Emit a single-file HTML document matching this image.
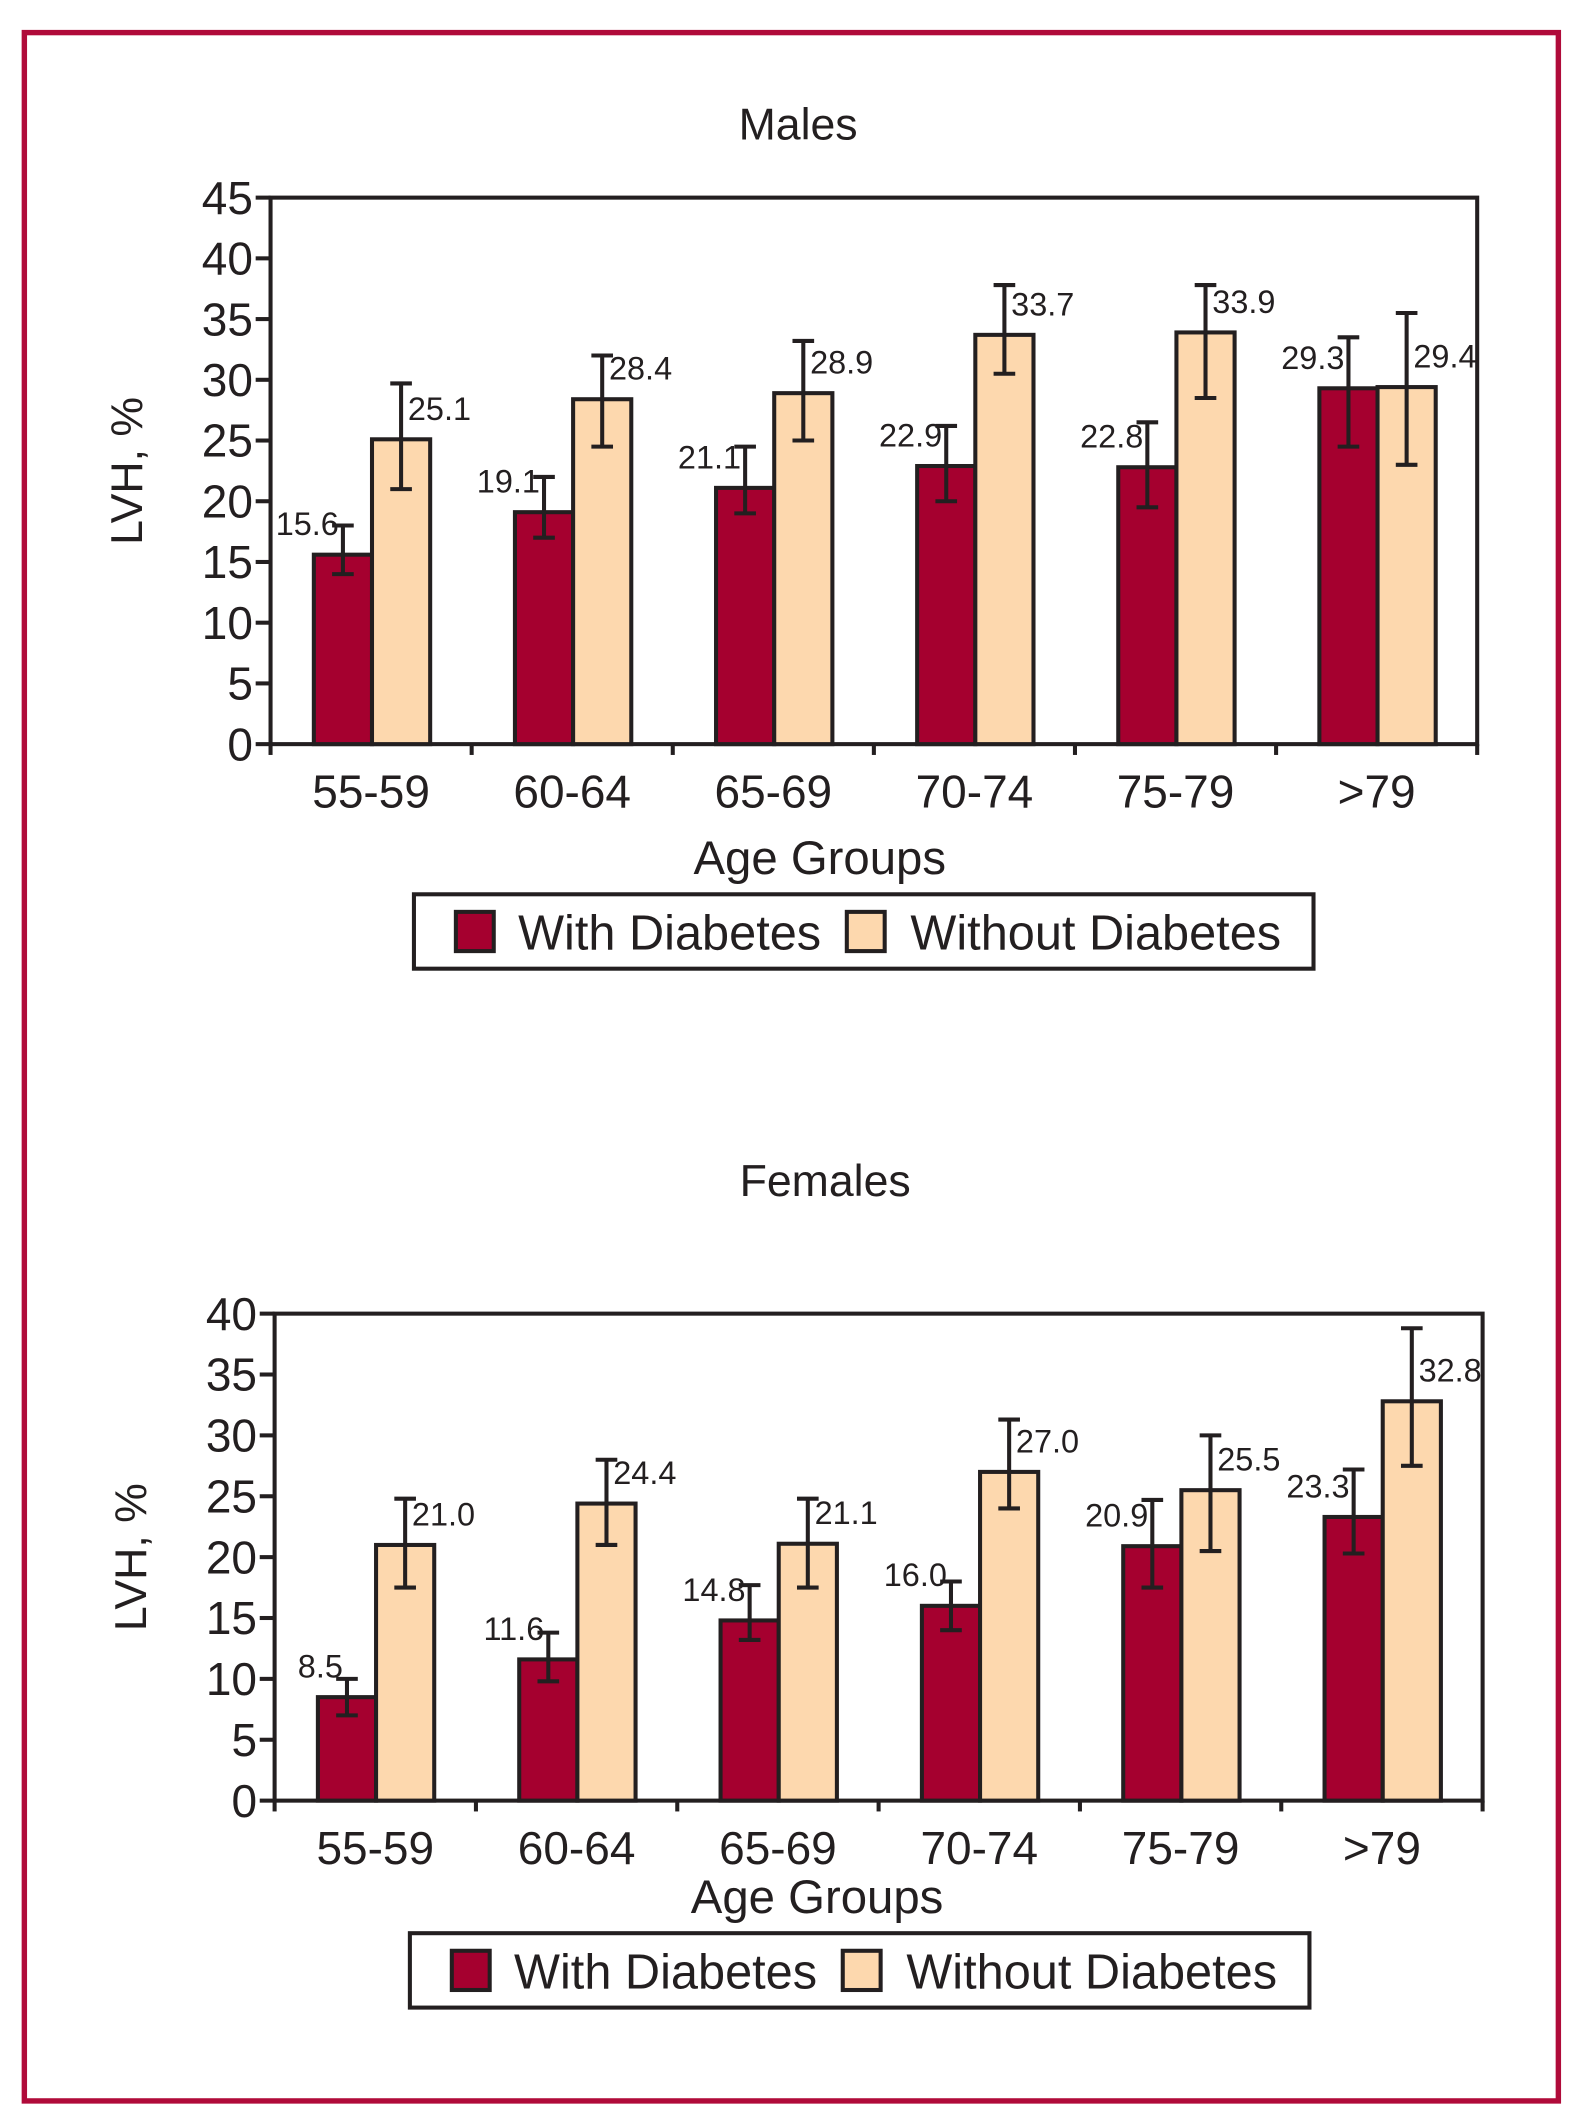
<!DOCTYPE html>
<html><head><meta charset="utf-8">
<style>
html,body{margin:0;padding:0;background:#fff;}
svg{display:block;}
text{font-family:"Liberation Sans Narrow","Liberation Sans",sans-serif;fill:#231f20;}
</style></head>
<body>
<svg id="chart" width="1580" height="2120" viewBox="0 0 1168 1567" xmlns="http://www.w3.org/2000/svg">
<rect x="18" y="24" width="1134" height="1529" fill="none" stroke="#b00b3a" stroke-width="4"/>
</svg>
<script>
const categories = ["55-59","60-64","65-69","70-74","75-79",">79"];
const maleWith = [15.6,19.1,21.1,22.9,22.8,29.3];
const maleWithout = [25.1,28.4,28.9,33.7,33.9,29.4];
const maleWithHi = [18,22,24.5,26.2,26.5,33.5];
const maleWithLo = [14,17,19,20,19.5,24.5];
const maleWithoutHi = [29.7,32,33.2,37.8,37.8,35.5];
const maleWithoutLo = [21,24.5,25,30.5,28.5,23];
const femaleWith = [8.5,11.6,14.8,16.0,20.9,23.3];
const femaleWithout = [21.0,24.4,21.1,27.0,25.5,32.8];
const femaleWithHi = [10,13.8,17.7,18,24.7,27.2];
const femaleWithLo = [7,9.8,13.2,14,17.5,20.3];
const femaleWithoutHi = [24.8,28,24.8,31.3,30,38.8];
const femaleWithoutLo = [17.5,21,17.5,24,20.5,27.5];
const maleTicks = [0,5,10,15,20,25,30,35,40,45];
const femaleTicks = [0,5,10,15,20,25,30,35,40];

const NS="http://www.w3.org/2000/svg";
const svg=document.getElementById('chart');
function mk(tag,attrs,parent){const e=document.createElementNS(NS,tag);for(const k in attrs)e.setAttribute(k,attrs[k]);(parent||svg).appendChild(e);return e;}
const DARK="#231f20", WITH="#a5002f", WITHOUT="#fdd8ae";

function drawChart(cfg){
  const g=mk('g',{});
  
  
  const {x0,x1,y0,y1,max}=cfg;
  const yS=v=>y0-(v/max)*(y0-y1);
  const gw=(x1-x0)/categories.length;
  const xS=i=>x0+i*gw;
  const t=mk('text',{x:cfg.titleX,y:cfg.titleY,'font-size':33,'text-anchor':'middle'},g);t.textContent=cfg.title;
  
  
  const fr=mk('rect',{x:x0,y:y1,width:x1-x0,height:y0-y1,fill:'none',stroke:DARK,'stroke-width':3},g);
  
  
  cfg.ticks.forEach(v=>{
    mk('line',{x1:x0-11,x2:x0,y1:yS(v),y2:yS(v),stroke:DARK,'stroke-width':3},g);
    const tl=mk('text',{x:x0-13,y:yS(v)+12,'font-size':34,'text-anchor':'end'},g);tl.textContent=v;
    
    
  });
  for(let i=0;i<=categories.length;i++) mk('line',{x1:xS(i),x2:xS(i),y1:y0,y2:y0+8,stroke:DARK,'stroke-width':3},g);
  categories.forEach((c,i)=>{
    const xl=mk('text',{x:xS(i)+gw/2,y:y0+47,'font-size':34,'text-anchor':'middle'},g);xl.textContent=c;
    
    
    const bx=xS(i)+32, bw=43;
    [[cfg.w,cfg.wHi,cfg.wLo,WITH,bx,'with'],[cfg.wo,cfg.woHi,cfg.woLo,WITHOUT,bx+bw,'without']].forEach(([vals,hi,lo,col,x,kind])=>{
      const b=mk('rect',{x:x,y:yS(vals[i]),width:bw,height:y0-yS(vals[i]),fill:col,stroke:DARK,'stroke-width':3},g);
      
      
      const cx=x+bw/2;
      mk('line',{x1:cx,x2:cx,y1:yS(hi[i]),y2:yS(lo[i]),stroke:DARK,'stroke-width':3},g);
      mk('line',{x1:cx-8,x2:cx+8,y1:yS(hi[i]),y2:yS(hi[i]),stroke:DARK,'stroke-width':3},g);
      mk('line',{x1:cx-8,x2:cx+8,y1:yS(lo[i]),y2:yS(lo[i]),stroke:DARK,'stroke-width':3},g);
      const lab=mk('text',{x:kind==='with'?cx-3:cx+5,y:yS(vals[i]+2.5)+8,'font-size':24,'text-anchor':kind==='with'?'end':'start'},g);
      lab.textContent=vals[i].toFixed(1);
      
      
    });
  });
  const yt=mk('text',{x:0,y:0,'font-size':33,'text-anchor':'middle',transform:`translate(${x0-95},${(y0+y1)/2}) rotate(-90)`},g);yt.textContent='LVH, %';
  
  
  const xt=mk('text',{x:cfg.xtX,y:cfg.xtY,'font-size':35,'text-anchor':'middle'},g);xt.textContent='Age Groups';
  
  
  const L=cfg.leg;
  const lg=mk('g',{},g);
  
  
  mk('rect',{x:L,y:cfg.legY,width:665,height:55,fill:'#fff',stroke:DARK,'stroke-width':3},lg);
  mk('rect',{x:L+31,y:cfg.legY+13,width:28,height:29,fill:WITH,stroke:DARK,'stroke-width':3},lg);
  const l1=mk('text',{x:L+77,y:cfg.legY+41,'font-size':36},lg);l1.textContent='With Diabetes';
  
  
  mk('rect',{x:L+320,y:cfg.legY+13,width:28,height:29,fill:WITHOUT,stroke:DARK,'stroke-width':3},lg);
  const l2=mk('text',{x:L+367,y:cfg.legY+41,'font-size':36},lg);l2.textContent='Without Diabetes';
  
  
}
drawChart({name:'males-chart',title:'Males',titleX:590,titleY:103,x0:200,x1:1092,y0:550,y1:146,max:45,ticks:maleTicks,
  w:maleWith,wHi:maleWithHi,wLo:maleWithLo,wo:maleWithout,woHi:maleWithoutHi,woLo:maleWithoutLo,xtX:606,xtY:646,leg:306,legY:661});
drawChart({name:'females-chart',title:'Females',titleX:610,titleY:884,x0:203,x1:1096,y0:1331,y1:971,max:40,ticks:femaleTicks,
  w:femaleWith,wHi:femaleWithHi,wLo:femaleWithLo,wo:femaleWithout,woHi:femaleWithoutHi,woLo:femaleWithoutLo,xtX:604,xtY:1414,leg:303,legY:1429});
</script>
</body></html>
